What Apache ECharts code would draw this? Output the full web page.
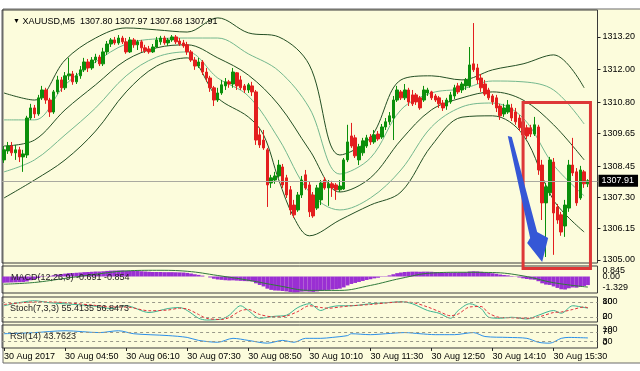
<!DOCTYPE html>
<html><head><meta charset="utf-8">
<script src="https://cdn.jsdelivr.net/npm/echarts/dist/echarts.min.js"></script>
<style>html,body{margin:0;padding:0;background:#fff}#c{width:640px;height:371px}</style>
</head><body><div id="c"></div>
<script>
// ---------------- DATA ----------------
const headerText = 'XAUUSD,M5  1307.80 1307.97 1307.68 1307.91';
const macdTitle = 'MACD(12,26,9) -0.691 -0.854';
const stochTitle = 'Stoch(7,3,3) 55.4135 56.8473';
const rsiTitle = 'RSI(14) 43.7623';
const lastPrice = 1307.91;

const timeTickLabels = ['30 Aug 2017','30 Aug 04:50','30 Aug 06:10','30 Aug 07:30','30 Aug 08:50','30 Aug 10:10','30 Aug 11:30','30 Aug 12:50','30 Aug 14:10','30 Aug 15:30'];
const priceTicks = [1313.20, 1312.00, 1310.80, 1309.65, 1308.45, 1307.30, 1306.15, 1305.00];
const macdEdgeTicks = [0.845, -1.329];
const macdZeroTicks = [0];
const stochEdgeTicks = [100, 0];
const stochLevelTicks = [80, 20];
const rsiEdgeTicks = [100, 0];
const rsiLevelTicks = [70, 30];

const opens = [
1308.68,1309.01,1309.19,1308.94,1309.05,1308.79,1308.86,1310.22,1310.59,1310.37,
1310.96,1311.25,1310.88,1310.44,1311.18,1311.62,1311.33,1311.77,1311.84,1311.55,
1311.77,1311.99,1312.28,1312.06,1312.35,1312.46,1312.21,1312.65,1312.94,1313.09,
1312.98,1313.16,1313.02,1312.65,1313.09,1312.91,1313.02,1312.80,1312.76,1312.65,
1312.83,1313.02,1313.16,1312.98,1313.09,1313.20,1313.05,1312.98,1312.91,1312.65,
1312.35,1312.13,1312.28,1311.91,1311.69,1311.33,1310.88,1311.14,1311.40,1311.55,
1311.47,1311.88,1311.62,1311.40,1311.25,1311.40,1311.18,1309.60,1309.41,1309.05,
1307.83,1307.94,1308.09,1308.42,1308.02,1307.58,1307.02,1306.84,1307.39,1308.13,
1307.76,1307.39,1306.91,1307.21,1307.94,1307.65,1307.80,1307.76,1307.58,1307.61,
1308.68,1309.56,1309.49,1308.68,1308.94,1309.19,1309.52,1309.34,1309.63,1309.52,
1309.89,1310.08,1310.22,1310.88,1311.18,1310.96,1311.25,1311.07,1311.07,1310.96,
1310.88,1311.14,1311.18,1311.03,1310.96,1310.77,1310.66,1310.81,1311.03,1311.40,
1311.25,1311.40,1311.40,1312.21,1312.06,1311.69,1311.47,1311.25,1311.03,1310.96,
1310.66,1310.37,1310.44,1310.59,1310.44,1310.22,1310.08,1309.86,1309.86,1309.63,
1309.89,1308.49,1307.10,1307.47,1308.60,1306.95,1306.66,1306.25,1306.91,1308.49,
1308.24,1307.28,1308.24,1307.80];
const closes = [
1309.05,1309.19,1308.94,1309.05,1308.79,1308.90,1310.22,1310.59,1310.37,1310.96,
1311.25,1310.88,1310.44,1311.18,1311.62,1311.33,1311.77,1311.84,1311.55,1311.77,
1311.99,1312.28,1312.06,1312.35,1312.46,1312.21,1312.65,1312.94,1313.09,1312.98,
1313.16,1313.02,1312.65,1313.09,1312.91,1313.02,1312.80,1312.69,1312.65,1312.83,
1313.09,1313.16,1312.98,1313.09,1313.20,1313.02,1312.94,1312.87,1312.65,1312.35,
1312.13,1312.28,1311.91,1311.69,1311.33,1310.88,1311.14,1311.44,1311.55,1311.47,
1311.91,1311.40,1311.33,1311.25,1311.44,1311.18,1309.41,1309.23,1309.12,1307.76,
1308.02,1308.09,1308.49,1307.76,1307.39,1306.84,1306.66,1307.39,1307.94,1307.65,
1306.77,1306.62,1307.65,1307.83,1307.65,1307.80,1307.65,1307.58,1307.72,1308.68,
1309.34,1309.19,1308.83,1309.16,1309.38,1309.49,1309.34,1309.60,1309.45,1309.89,
1310.08,1310.30,1310.88,1311.25,1310.96,1311.25,1310.81,1310.74,1310.81,1310.59,
1311.25,1311.25,1310.96,1310.88,1310.74,1310.59,1310.88,1311.07,1311.33,1311.18,
1311.47,1311.62,1312.17,1311.99,1311.62,1311.33,1311.10,1310.96,1310.81,1310.59,
1310.30,1310.59,1310.70,1310.22,1310.08,1309.86,1309.60,1309.56,1309.63,1309.97,
1308.31,1307.10,1307.69,1308.68,1306.73,1306.47,1306.03,1307.02,1308.49,1308.20,
1307.10,1308.31,1307.80,1307.91];
const highs = [
1309.19,1309.34,1309.34,1309.23,1309.16,1309.05,1310.30,1310.74,1310.70,1311.07,
1311.40,1311.33,1310.96,1311.25,1311.77,1311.73,1311.91,1312.43,1311.95,1311.88,
1312.13,1312.43,1312.39,1312.46,1312.58,1312.54,1312.80,1313.05,1313.16,1313.20,
1313.27,1313.24,1313.16,1313.20,1313.16,1313.09,1313.09,1312.91,1312.87,1312.94,
1313.20,1313.24,1313.24,1313.16,1313.27,1313.27,1313.16,1313.09,1313.02,1312.72,
1312.46,1312.43,1312.35,1312.06,1311.77,1311.40,1311.33,1311.62,1311.69,1311.62,
1312.06,1311.91,1311.77,1311.47,1311.51,1311.55,1311.25,1309.86,1309.78,1309.12,
1308.13,1308.24,1308.68,1308.53,1308.13,1307.72,1307.21,1307.50,1308.09,1308.31,
1307.87,1307.50,1307.76,1307.94,1308.05,1307.94,1307.91,1307.83,1307.94,1308.75,
1309.97,1310.04,1309.60,1309.27,1309.49,1309.60,1309.63,1309.78,1309.74,1310.00,
1310.22,1310.44,1311.03,1311.40,1311.25,1311.47,1311.33,1311.25,1311.14,1311.03,
1311.40,1311.33,1311.22,1311.10,1311.03,1310.88,1310.96,1311.18,1311.44,1311.51,
1311.55,1311.69,1312.83,1313.71,1312.21,1311.84,1311.62,1311.33,1311.10,1311.07,
1310.74,1310.74,1310.88,1310.74,1310.59,1310.33,1310.19,1309.97,1309.97,1310.26,
1309.97,1308.68,1307.83,1308.79,1308.75,1307.06,1306.77,1307.21,1308.68,1309.49,
1308.38,1308.46,1308.31,1307.97];
const lows = [
1308.57,1308.90,1308.83,1308.68,1308.60,1308.24,1308.75,1310.15,1310.22,1310.30,
1310.88,1310.74,1310.26,1310.37,1311.10,1311.18,1311.25,1311.62,1311.44,1311.47,
1311.66,1311.91,1311.91,1311.99,1312.24,1312.13,1312.13,1312.54,1312.83,1312.91,
1312.91,1312.94,1312.58,1312.61,1312.80,1312.72,1312.65,1312.61,1312.58,1312.61,
1312.80,1312.91,1312.91,1312.87,1313.02,1312.94,1312.87,1312.80,1312.54,1312.28,
1311.99,1312.06,1311.80,1311.55,1311.18,1310.66,1310.81,1311.07,1311.25,1311.33,
1311.33,1311.25,1311.25,1311.14,1311.14,1311.03,1309.23,1309.12,1309.05,1306.95,
1307.65,1307.80,1308.02,1307.65,1307.28,1306.66,1306.55,1306.77,1307.28,1307.58,
1306.58,1306.55,1306.84,1307.02,1307.58,1306.99,1307.32,1307.21,1307.50,1307.58,
1308.60,1309.12,1308.75,1308.49,1308.83,1309.12,1309.23,1309.27,1309.38,1309.45,
1309.78,1309.97,1309.41,1310.81,1310.88,1310.88,1310.66,1310.66,1310.70,1310.52,
1310.81,1311.03,1310.88,1310.81,1310.59,1310.48,1310.52,1310.74,1310.92,1311.10,
1311.14,1311.25,1311.33,1311.91,1311.47,1311.18,1311.03,1310.88,1310.70,1310.44,
1310.15,1310.26,1310.37,1310.11,1309.97,1309.74,1309.49,1309.45,1309.52,1309.56,
1308.13,1306.47,1305.11,1307.36,1305.19,1306.33,1305.89,1305.85,1306.77,1308.09,
1306.99,1307.21,1307.65,1307.68];

// Bollinger-type bands read at sample bars
const bandIdx   = [0,8,16,24,32,40,48,56,64,72,80,88,96,104,112,120,128,136,144,152];
const bandUp2   = [1311.14,1310.88,1312.35,1313.16,1313.53,1313.46,1313.38,1313.90,1313.35,1313.20,1312.17,1308.86,1309.49,1311.62,1311.77,1311.62,1311.99,1312.21,1312.54,1311.33];
const bandUp1   = [1310.15,1310.15,1311.44,1312.28,1312.94,1313.13,1313.16,1313.16,1312.58,1311.95,1310.59,1308.16,1308.75,1310.52,1311.14,1311.29,1311.58,1311.55,1311.25,1310.00];
const bandMid   = [1309.19,1309.41,1310.52,1311.44,1312.35,1312.80,1312.91,1312.43,1311.80,1310.70,1309.05,1307.50,1308.02,1309.41,1310.52,1310.96,1311.18,1310.88,1309.97,1308.68];
const bandLow1  = [1308.24,1308.68,1309.60,1310.59,1311.77,1312.46,1312.65,1311.69,1311.03,1309.45,1307.50,1306.84,1307.28,1308.31,1309.89,1310.63,1310.77,1310.22,1308.49,1307.36];
const bandLow2Idx = [0,8,16,24,32,40,48,56,64,68,72,76,80,88,96,104,112,120,128,136,144,152];
const bandLow2  = [1307.28,1307.94,1308.68,1309.74,1311.18,1312.13,1312.43,1310.96,1310.26,1309.60,1307.94,1306.55,1305.89,1306.47,1307.02,1307.50,1309.20,1310.25,1310.30,1309.60,1307.20,1306.03];

const macdMain = [
-0.50,-0.49,-0.48,-0.47,-0.46,-0.45,-0.40,-0.30,
-0.22,-0.12,-0.04,0.02,0.05,0.10,0.16,0.19,
0.23,0.27,0.28,0.30,0.32,0.35,0.36,0.38,
0.40,0.40,0.42,0.45,0.47,0.48,0.49,0.49,
0.46,0.46,0.45,0.44,0.42,0.40,0.38,0.36,
0.36,0.36,0.35,0.35,0.35,0.34,0.33,0.32,
0.29,0.24,0.18,0.13,0.07,0.00,-0.08,-0.18,
-0.24,-0.27,-0.30,-0.32,-0.31,-0.33,-0.35,-0.37,
-0.38,-0.40,-0.55,-0.68,-0.80,-0.98,-1.08,-1.13,
-1.14,-1.17,-1.20,-1.25,-1.28,-1.27,-1.22,-1.20,
-1.22,-1.24,-1.20,-1.16,-1.12,-1.08,-1.05,-1.02,
-0.98,-0.88,-0.72,-0.60,-0.52,-0.44,-0.36,-0.28,
-0.22,-0.15,-0.10,-0.03,0.03,0.09,0.18,0.27,
0.32,0.36,0.38,0.39,0.39,0.38,0.39,0.39,
0.38,0.36,0.34,0.32,0.31,0.31,0.32,0.32,
0.33,0.34,0.40,0.42,0.41,0.38,0.34,0.30,
0.26,0.22,0.16,0.12,0.09,0.04,-0.02,-0.08,
-0.15,-0.20,-0.24,-0.26,-0.38,-0.55,-0.65,-0.68,
-0.80,-0.92,-1.03,-1.05,-0.95,-0.88,-0.90,-0.82,-0.76,-0.69];
const macdSignalIdx = [0,8,16,24,32,40,48,56,64,72,80,88,96,104,112,120,128,136,144,153];
const macdSignal    = [-0.62,-0.48,-0.15,0.18,0.45,0.50,0.42,0.08,-0.30,-0.75,-1.12,-1.12,-0.72,-0.15,0.28,0.34,0.32,0.05,-0.50,-0.854];

const stochIdx  = [0,8,12,23,28,32,38,43,46,48,51,53,57,59,62,64,67,71,74,77,80,83,85,88,91,96,100,104,107,111,114,117,119,122,125,127,130,133,137,140,144,146,149,152,153];
const stochMain = [65,85,77,65,54,65,38,54,58,46,15,8,12,27,65,46,15,23,27,58,73,46,58,65,65,73,77,81,73,46,35,15,46,73,54,19,15,19,12,27,46,35,65,58,55.41];
const stochSig  = [70,80,80,68,60,60,45,48,55,52,30,15,10,18,45,50,30,20,24,42,65,58,55,60,65,70,76,80,78,60,42,25,32,60,62,35,18,17,15,20,38,40,50,60,56.85];

const rsiIdx = [0,8,16,25,30,34,43,48,51,56,60,64,69,73,76,79,83,86,90,91,96,100,105,109,113,118,123,126,132,137,140,143,146,148,153];
const rsiVal = [62,67,75,67,75,62,54,46,33,25,42,33,21,33,25,42,42,46,54,62,58,62,67,62,58,58,67,50,46,42,25,21,42,46,43.76];

// annotation anchors (data coordinates)
const boxFrom = [136, 1310.79];
const boxTo   = [153, 1304.69];
const arrowFrom = [132, 1309.56];
const arrowTo   = [141, 1304.93];

// ---------------- BUILD ----------------
const N_SLOTS = 156;
const startMinute = 3 * 60 + 30;
const categories = Array.from({length: N_SLOTS}, (_, i) => {
  const m = startMinute + 5 * i;
  return String(Math.floor(m / 60)).padStart(2, '0') + ':' + String(m % 60).padStart(2, '0');
});
function sparse(idx, vals) {
  const a = new Array(N_SLOTS).fill(null);
  idx.forEach((k, j) => { a[k] = vals[j]; });
  return a;
}
const candleData = opens.map((o, i) => [o, closes[i], lows[i], highs[i]]);

const FONT = 'Liberation Sans';
const CREAM = '#fcfcdc';
const GL = 2.1, GW = 595.4;
const DARK = '#244f24', LIGHT = '#74b88e';

const grids = [
  {left: GL, width: GW, top: 10, height: 253},
  {left: GL, width: GW, top: 266, height: 27},
  {left: GL, width: GW, top: 297, height: 25},
  {left: GL, width: GW, top: 325, height: 23}
].map(g => Object.assign(g, {show: true, backgroundColor: 'transparent', borderColor: '#3a3a3a', borderWidth: 1}));

function xAx(gi, showLabels) {
  return {
    type: 'category', gridIndex: gi, data: categories, boundaryGap: true,
    axisLine: {show: false}, splitLine: {show: false},
    axisTick: showLabels ? {show: true, alignWithLabel: true, length: 3, lineStyle: {color: '#222'},
      interval: (i) => i % 16 === 0 && i / 16 < timeTickLabels.length} : {show: false},
    axisLabel: showLabels ? {show: true, align: 'left', margin: 4, fontFamily: FONT, fontSize: 9, color: '#000',
      interval: (i) => i % 16 === 0 && i / 16 < timeTickLabels.length,
      formatter: (v, i) => timeTickLabels[i / 16]} : {show: false}
  };
}
const richShift = {
  d: {fontFamily: FONT, fontSize: 9, color: '#000', padding: [10, 0, 0, 0]},
  u: {fontFamily: FONT, fontSize: 9, color: '#000', padding: [0, 0, 10, 0]},
  n: {fontFamily: FONT, fontSize: 9, color: '#000'}
};
// edge labels (top shifted down, bottom shifted up) and inner level labels on separate axes
function edgeY(gi, min, max, ticks, fmt) {
  return {type: 'value', gridIndex: gi, position: 'right', min: min, max: max,
    axisLine: {show: false}, splitLine: {show: false}, axisTick: {show: false},
    axisLabel: {show: true, customValues: ticks, showMinLabel: true, showMaxLabel: true,
      margin: 5, rich: richShift,
      formatter: v => (v >= (min + max) / 2 ? '{d|' : '{u|') + fmt(v) + '}'}};
}
function levelY(gi, min, max, ticks, fmt) {
  return {type: 'value', gridIndex: gi, position: 'right', min: min, max: max,
    axisLine: {show: false}, splitLine: {show: false}, axisTick: {show: false},
    axisLabel: {show: true, customValues: ticks, margin: 5, rich: richShift,
      formatter: v => '{n|' + fmt(v) + '}'}};
}
const intFmt = v => String(Math.round(v));

const option = {
  animation: false,
  backgroundColor: '#ffffff',
  textStyle: {fontFamily: FONT},
  title: [
    {text: '{t|▼} ' + headerText, left: 8, top: 12, textStyle: {fontFamily: FONT, fontSize: 9, fontWeight: 'normal', color: '#000', rich: {t: {fontSize: 7, color: '#000'}}}},
    {text: macdTitle, left: 6, top: 268, textStyle: {fontFamily: FONT, fontSize: 9, fontWeight: 'normal', color: '#222'}},
    {text: stochTitle, left: 5, top: 299, textStyle: {fontFamily: FONT, fontSize: 9, fontWeight: 'normal', color: '#222'}},
    {text: rsiTitle, left: 5, top: 327, textStyle: {fontFamily: FONT, fontSize: 9, fontWeight: 'normal', color: '#222'}}
  ],
  grid: grids,
  xAxis: [xAx(0, false), xAx(1, false), xAx(2, false), xAx(3, true)],
  yAxis: [
    {type: 'value', gridIndex: 0, position: 'right', min: 1304.89, max: 1314.19, scale: true,
      axisLine: {show: false}, splitLine: {show: false},
      axisTick: {show: true, length: 3, customValues: priceTicks, lineStyle: {color: '#222'}},
      axisLabel: {show: true, customValues: priceTicks, margin: 5, fontFamily: FONT, fontSize: 9, color: '#000', formatter: v => v.toFixed(2)}},
    edgeY(1, -1.329, 0.845, macdEdgeTicks, v => v > 0 ? '0.845' : '-1.329'),
    edgeY(2, 0, 100, stochEdgeTicks, intFmt),
    edgeY(3, 0, 100, rsiEdgeTicks, intFmt),
    levelY(1, -1.329, 0.845, macdZeroTicks, v => '0.00'),
    levelY(2, 0, 100, stochLevelTicks, intFmt),
    levelY(3, 0, 100, rsiLevelTicks, intFmt)
  ],
  series: [
    {type: 'line', name: 'up2', xAxisIndex: 0, yAxisIndex: 0, data: sparse(bandIdx, bandUp2), connectNulls: true, smooth: 0.35, showSymbol: false, lineStyle: {color: DARK, width: 1}, z: 1},
    {type: 'line', name: 'up1', xAxisIndex: 0, yAxisIndex: 0, data: sparse(bandIdx, bandUp1), connectNulls: true, smooth: 0.35, showSymbol: false, lineStyle: {color: LIGHT, width: 1}, z: 1},
    {type: 'line', name: 'mid', xAxisIndex: 0, yAxisIndex: 0, data: sparse(bandIdx, bandMid), connectNulls: true, smooth: 0.35, showSymbol: false, lineStyle: {color: DARK, width: 1}, z: 1},
    {type: 'line', name: 'low1', xAxisIndex: 0, yAxisIndex: 0, data: sparse(bandIdx, bandLow1), connectNulls: true, smooth: 0.35, showSymbol: false, lineStyle: {color: LIGHT, width: 1}, z: 1},
    {type: 'line', name: 'low2', xAxisIndex: 0, yAxisIndex: 0, data: sparse(bandLow2Idx, bandLow2), connectNulls: true, smooth: 0.35, showSymbol: false, lineStyle: {color: DARK, width: 1}, z: 1},
    {type: 'candlestick', name: 'XAUUSD', xAxisIndex: 0, yAxisIndex: 0, data: candleData, barWidth: 3, z: 3,
      itemStyle: {color: '#0b8f0b', color0: '#e31e1e', borderColor: '#0b8f0b', borderColor0: '#e31e1e', borderWidth: 1},
      markLine: {silent: true, symbol: 'none', animation: false, data: [{yAxis: lastPrice}],
        lineStyle: {color: '#a9a9a0', width: 1, type: 'solid'},
        label: {show: true, position: 'end', distance: 1, formatter: lastPrice.toFixed(2), backgroundColor: '#000', color: '#fff', padding: [2, 4, 1, 3], fontFamily: FONT, fontSize: 9}}},
    {type: 'bar', name: 'MACD', xAxisIndex: 1, yAxisIndex: 1, data: macdMain, barWidth: '100%', barCategoryGap: '0%', itemStyle: {color: '#9a2fd3'}},
    {type: 'line', name: 'Signal', xAxisIndex: 1, yAxisIndex: 1, data: sparse(macdSignalIdx, macdSignal), connectNulls: true, smooth: 0.4, showSymbol: false, lineStyle: {color: '#2f7a3a', width: 1}, z: 4},
    {type: 'line', name: 'StochMain', xAxisIndex: 2, yAxisIndex: 2, data: sparse(stochIdx, stochMain), connectNulls: true, smooth: 0.3, showSymbol: false, lineStyle: {color: '#3cb391', width: 1},
      markLine: {silent: true, symbol: 'none', label: {show: false}, lineStyle: {color: '#9a9a8a', type: [3, 3], width: 1}, data: [{yAxis: 80}, {yAxis: 20}]}},
    {type: 'line', name: 'StochSig', xAxisIndex: 2, yAxisIndex: 2, data: sparse(stochIdx, stochSig), connectNulls: true, smooth: 0.3, showSymbol: false, lineStyle: {color: '#e0303a', width: 1, type: [3, 2]}},
    {type: 'line', name: 'RSI', xAxisIndex: 3, yAxisIndex: 3, data: sparse(rsiIdx, rsiVal), connectNulls: true, smooth: 0.3, showSymbol: false, lineStyle: {color: '#2b8fe8', width: 1},
      markLine: {silent: true, symbol: 'none', label: {show: false}, lineStyle: {color: '#9a9a8a', type: [3, 3], width: 1}, data: [{yAxis: 70}, {yAxis: 30}]}}
  ],
  graphic: [
    {type: 'rect', id: 'bg', z: -100, silent: true, shape: {x: 3, y: 9, width: 640, height: 354}, style: {fill: CREAM, stroke: '#6a6a6a', lineWidth: 1}}
  ]
};

const chart = echarts.init(document.getElementById('c'), null, {renderer: 'canvas'});
chart.setOption(option);

// annotations positioned from data coordinates
const p = (pt) => chart.convertToPixel({gridIndex: 0}, pt);
const b1 = p(boxFrom), b2 = p(boxTo);
const a1 = p(arrowFrom), a2 = p(arrowTo);
const ax = a1[0], ay = a1[1], tx = a2[0], ty = a2[1];
chart.setOption({
  graphic: [
    {type: 'rect', id: 'bg', z: -100, silent: true, shape: {x: 3, y: 9, width: 640, height: 354}, style: {fill: CREAM, stroke: '#6a6a6a', lineWidth: 1}},
    {type: 'rect', id: 'box', z: 100, silent: true,
      shape: {x: b1[0], y: b1[1], width: b2[0] - b1[0] + 2.5, height: b2[1] - b1[1]},
      style: {fill: 'none', stroke: '#dd3838', lineWidth: 3}},
    {type: 'polygon', id: 'arrow', z: 101, silent: true,
      shape: {points: [[ax, ay], [ax + 4, ay + 1], [tx - 5, ty - 30], [tx + 6, ty - 24], [tx, ty], [tx - 15, ty - 19], [tx - 12, ty - 24]]},
      style: {fill: '#3557d6'}}
  ]
});
</script>
</body></html>
